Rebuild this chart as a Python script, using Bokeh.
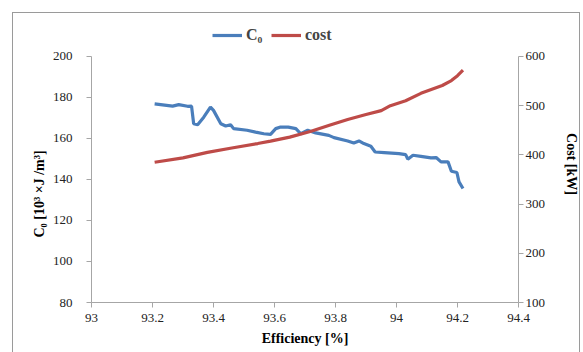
from bokeh.plotting import figure
from bokeh.models import (Range1d, LinearAxis, FixedTicker, NumeralTickFormatter,
                          Legend, LegendItem, InlineStyleSheet, Title)
from bokeh.embed import file_html
from bokeh.resources import INLINE

# ---- data ----
c0_eff = [93.207, 93.266, 93.286, 93.315, 93.328, 93.335, 93.348, 93.368, 93.39, 93.40,
          93.424, 93.44, 93.456, 93.466, 93.51, 93.538, 93.565, 93.587, 93.604, 93.62,
          93.645, 93.67, 93.686, 93.709, 93.735, 93.778, 93.795, 93.84, 93.86, 93.877,
          93.893, 93.916, 93.93, 93.96, 94.008, 94.03, 94.037, 94.054, 94.08, 94.113,
          94.13, 94.146, 94.169, 94.18, 94.198, 94.205, 94.218]
c0_val = [176.9, 175.8, 176.5, 175.7, 175.8, 167.2, 166.7, 170.4, 175.3, 173.7,
          167.2, 166.1, 166.7, 164.8, 164.0, 163.1, 162.3, 162.0, 164.8, 165.6,
          165.5, 164.8, 162.3, 164.0, 162.7, 161.5, 160.4, 158.8, 157.8, 158.8,
          157.5, 156.2, 153.4, 153.1, 152.6, 152.1, 149.9, 151.8, 151.3, 150.5,
          150.7, 148.6, 148.6, 144.0, 143.4, 138.8, 135.6]

cost_eff = [93.207, 93.30, 93.38, 93.46, 93.545, 93.587, 93.65, 93.72, 93.78, 93.84,
            93.90, 93.95, 93.98, 94.03, 94.08, 94.15, 94.18, 94.20, 94.218]
cost_val = [385, 394, 405, 414, 423, 428, 436, 448, 460, 472,
            482, 490, 500, 510, 525, 541, 551, 561, 572]

x_ticks = [93, 93.2, 93.4, 93.6, 93.8, 94, 94.2, 94.4]
c0_ticks = [80, 100, 120, 140, 160, 180, 200]
cost_ticks = [100, 200, 300, 400, 500, 600]

SERIF = "Liberation Serif"
AXIS_COLOR = "#a6a6a6"
BLUE = "#4a7ebb"
RED = "#be4b48"

frame_css = InlineStyleSheet(css="""
:host { position: relative; }
:host::after {
  content: "";
  position: absolute;
  left: 12px; top: 12px; width: 568px; height: 360px;
  border: 1px solid #9a9a9a;
  box-sizing: border-box;
  pointer-events: none;
}
""")

# the frame reaches up to the legend row; the axes themselves stop at 200 / 600
p = figure(width=583, height=352, output_backend="svg", toolbar_location=None,
           x_range=Range1d(93, 94.4), y_range=Range1d(80, 215.1),
           min_border_left=91, min_border_right=65, min_border_top=25, min_border_bottom=50,
           stylesheets=[frame_css])
p.outline_line_color = None
p.xgrid.visible = False
p.ygrid.visible = False
p.extra_y_ranges = {"cost": Range1d(100, 662.9)}

r1 = p.line(c0_eff, c0_val, line_color=BLUE, line_width=3.2)
r2 = p.line(cost_eff, cost_val, line_color=RED, line_width=3.2, y_range_name="cost")

right = LinearAxis(y_range_name="cost")
p.add_layout(right, "right")

for ax in [p.xaxis[0], p.yaxis[0], right]:
    ax.axis_line_color = AXIS_COLOR
    ax.major_tick_line_color = AXIS_COLOR
    ax.minor_tick_line_color = None
    ax.major_tick_in = 0
    ax.major_tick_out = 5
    ax.major_label_text_font = SERIF
    ax.major_label_text_font_size = "13px"
    ax.major_label_text_color = "#222222"
    ax.axis_label_text_font = SERIF
    ax.axis_label_text_font_style = "bold"
    ax.axis_label_text_font_size = "14px"
    ax.axis_label_text_color = "#000000"

p.xaxis.ticker = FixedTicker(ticks=x_ticks)
p.xaxis.formatter = NumeralTickFormatter(format="0.[0]")
p.xaxis.axis_label = "Efficiency [%]"
p.xaxis.major_label_standoff = 6
p.xaxis.axis_label_standoff = 6

p.yaxis[0].ticker = FixedTicker(ticks=c0_ticks)
p.yaxis[0].bounds = (80, 200)
p.yaxis[0].major_label_standoff = 14

# left axis title, placed along the 80..200 axis rather than the taller frame
left_title = Title(text="C\u2080 [10\u00b3 \u00d7J /m\u00b3]", align="left", offset=65,
                   text_font=SERIF, text_font_style="bold", text_font_size="14px",
                   text_color="#000000", standoff=6)
p.add_layout(left_title, "left")

right.ticker = FixedTicker(ticks=cost_ticks)
right.bounds = (100, 600)
right.axis_label = "Cost [kW]"
right.major_label_standoff = 2
right.axis_label_standoff = 16

legend = Legend(items=[LegendItem(label="C\u2080", renderers=[r1]),
                       LegendItem(label="cost", renderers=[r2])],
                location=(121, 257), orientation="horizontal")
legend.padding = 0
legend.margin = 0
legend.spacing = 5
legend.label_standoff = 4
legend.glyph_width = 30
legend.glyph_height = 20
legend.label_height = 20
legend.label_text_font = SERIF
legend.label_text_font_style = "bold"
legend.label_text_font_size = "16px"
legend.border_line_alpha = 0
legend.background_fill_alpha = 0
p.add_layout(legend, "center")

open("out.html", "w").write(file_html(p, INLINE))
